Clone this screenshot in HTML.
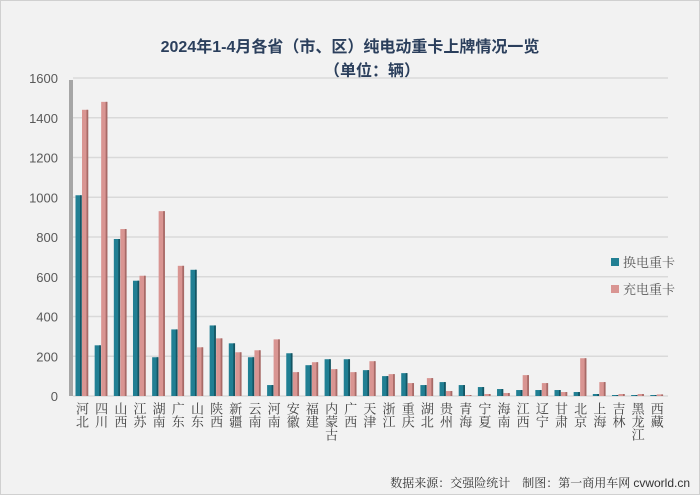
<!DOCTYPE html>
<html><head><meta charset="utf-8"><style>
body{margin:0;background:#fff;}
svg{display:block;font-family:"Liberation Sans","Noto Sans CJK SC",sans-serif;}
</style></head><body>
<svg id="c" width="700" height="495" viewBox="0 0 700 495" xmlns="http://www.w3.org/2000/svg">
<rect x="0.5" y="0.5" width="699" height="494" fill="#f2f2f2" stroke="#d0d0d0"/>
<text x="350" y="52" text-anchor="middle" font-size="16" font-weight="bold" fill="#2b3f5c" font-family="Liberation Sans,Noto Sans CJK SC,sans-serif">2024年1-4月各省（市、区）纯电动重卡上牌情况一览</text>
<text x="372" y="76" text-anchor="middle" font-size="16" font-weight="bold" fill="#2b3f5c">（单位：辆）</text>
<g id="grid"></g>
<rect x="69" y="80" width="4" height="316" fill="#a6a6a6"/>
<g id="bars"></g>
<g id="labels"></g>
<rect x="611" y="258" width="8" height="8" fill="#217f93"/>
<text x="623" y="267" font-size="13" fill="#595959" font-family="Noto Serif CJK SC,serif">换电重卡</text>
<rect x="611" y="285" width="8" height="8" fill="#d99592"/>
<text x="623" y="294" font-size="13" fill="#595959" font-family="Noto Serif CJK SC,serif">充电重卡</text>
<text x="690" y="487" text-anchor="end" font-size="12" fill="#333"><tspan font-family="Noto Serif CJK SC,serif">数据来源：交强险统计　制图：第一商用车网 </tspan>cvworld.cn</text>
</svg>
<script>
var ns="http://www.w3.org/2000/svg";
function el(t,a,p,txt){var e=document.createElementNS(ns,t);for(var k in a)e.setAttribute(k,a[k]);if(txt)e.textContent=txt;document.getElementById(p).appendChild(e);return e;}
var y0=396,sc=318/1600;
for(var v=0;v<=1600;v+=200){var y=y0-v*sc;
 if(v>0)el("line",{x1:73,x2:668,y1:y,y2:y,stroke:"#d9d9d9","stroke-width":1.5},"grid");
 el("text",{x:58,y:y+5,"text-anchor":"end","font-size":13,fill:"#595959"},"grid",String(v));}
el("line",{x1:73,x2:668,y1:396,y2:396,stroke:"#d9d9d9","stroke-width":1.5},"grid");
var d=[["河北",1010,1440],["四川",255,1480],["山西",790,840],["江苏",580,605],["湖南",195,930],["广东",335,655],["山东",635,245],["陕西",355,290],["新疆",265,220],["云南",195,230],["河南",55,285],["安徽",215,120],["福建",155,170],["内蒙古",185,135],["广西",185,120],["天津",130,175],["浙江",100,110],["重庆",115,65],["湖北",55,90],["贵州",70,25],["青海",55,3],["宁夏",45,10],["海南",35,15],["江西",30,105],["辽宁",30,65],["甘肃",30,20],["北京",20,190],["上海",10,70],["吉林",5,10],["黑龙江",5,10],["西藏",2,8]];
var w=19.16;
d.forEach(function(r,i){var x=73+i*w;
 [[r[1],x+2.5,"#217f93","#145563"],[r[2],x+9,"#d99592","#a86a67"]].forEach(function(b){
  var h=b[0]*sc;if(h<1)h=1;
  el("rect",{x:b[1],y:y0-h,width:6,height:h,fill:b[2]},"bars");
  el("rect",{x:b[1]+4.5,y:y0-h,width:1.8,height:h,fill:b[3]},"bars");
 });
 el("text",{x:x+9.5,y:402,"font-size":13,fill:"#404040","writing-mode":"tb","glyph-orientation-vertical":0,style:"writing-mode:vertical-rl;text-orientation:upright;font-family:'Noto Serif CJK SC',serif"},"labels",r[0]);
});
</script>
</body></html>
